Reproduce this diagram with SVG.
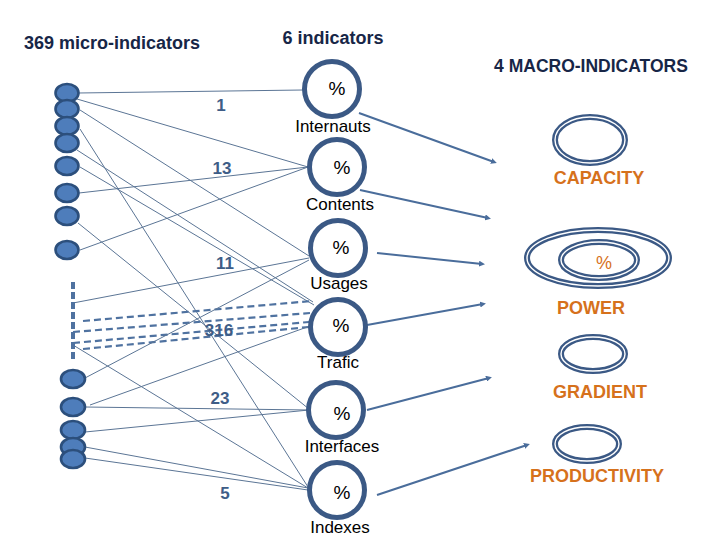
<svg xmlns="http://www.w3.org/2000/svg" width="720" height="540" viewBox="0 0 720 540">
<defs>
<style>
.hd{font-family:"Liberation Sans",Arial,sans-serif;font-weight:bold;fill:#172647;font-size:18px}
.num{font-family:"Liberation Sans",Arial,sans-serif;font-weight:bold;fill:#3e5d87;font-size:17px;text-anchor:middle}
.lbl{font-family:"Liberation Sans",Arial,sans-serif;fill:#000;font-size:17px;text-anchor:middle}
.pct{font-family:"Liberation Sans",Arial,sans-serif;fill:#000;font-size:19px;text-anchor:middle}
.mac{font-family:"Liberation Sans",Arial,sans-serif;font-weight:bold;fill:#d6711c;font-size:18px;text-anchor:middle}
.mc{fill:#4e7dbb;stroke:#2c4f7c;stroke-width:2.6}
.ring{fill:#fff;stroke:#3b5985;stroke-width:5}
.dbl{fill:none;stroke:#3b5985;stroke-width:6}
.dbw{fill:none;stroke:#fff;stroke-width:1.4}
.thin{stroke:#5b7595;stroke-width:1;fill:none}
.dash{stroke:#4f72a0;stroke-width:2.2;stroke-dasharray:7 4;fill:none}
.arr{stroke:#4a6d9b;stroke-width:2;fill:none;marker-end:url(#dot)}
</style>
<marker id="dot" viewBox="0 0 6 6" refX="3" refY="3" markerWidth="3" markerHeight="3" orient="auto">
<path d="M0,0 L6,3 L0,6 Z" fill="#4a6d9b"/>
</marker>
</defs>
<rect width="720" height="540" fill="#fff"/>

<text class="hd" x="24" y="49">369 micro-indicators</text>
<text class="hd" x="333" y="44" text-anchor="middle">6 indicators</text>
<text class="hd" x="591" y="72" text-anchor="middle" style="font-size:17.5px">4 MACRO-INDICATORS</text>

<g id="connectors">
<line class="thin" x1="78" y1="93" x2="303" y2="90"/>
<line class="thin" x1="77" y1="99" x2="308" y2="167"/>
<line class="thin" x1="80" y1="110" x2="309" y2="256"/>
<line class="thin" x1="80" y1="129" x2="308" y2="487"/>
<line class="thin" x1="77" y1="150" x2="313" y2="302"/>
<line class="thin" x1="80" y1="167" x2="314" y2="305"/>
<line class="thin" x1="79" y1="193" x2="308" y2="167"/>
<line class="thin" x1="78" y1="223" x2="309" y2="409"/>
<line class="thin" x1="80" y1="250" x2="308" y2="167"/>
<line class="thin" x1="73" y1="303" x2="309" y2="258"/>
<line class="thin" x1="73" y1="345" x2="308" y2="488"/>
<line class="dash" x1="83" y1="321" x2="312" y2="301"/>
<line class="dash" x1="73" y1="332" x2="310" y2="313"/>
<line class="dash" x1="73" y1="343" x2="309" y2="322"/>
<line class="dash" x1="83" y1="349" x2="309" y2="327"/>
<line class="thin" x1="85" y1="378" x2="309" y2="260"/>
<line class="thin" x1="90" y1="405" x2="310" y2="326"/>
<line class="thin" x1="85" y1="407" x2="309" y2="410"/>
<line class="thin" x1="85" y1="432" x2="309" y2="410"/>
<line class="thin" x1="85" y1="447" x2="308" y2="488"/>
<line class="thin" x1="85" y1="458" x2="308" y2="490"/>
<line class="arr" x1="359" y1="113" x2="494" y2="162"/>
<line class="arr" x1="360" y1="190" x2="488" y2="218"/>
<line class="arr" x1="377" y1="253" x2="482" y2="264"/>
<line class="arr" x1="367" y1="325" x2="483" y2="304"/>
<line class="arr" x1="367" y1="410" x2="489" y2="378"/>
<line class="arr" x1="377" y1="495" x2="527" y2="445"/>
</g>

<g id="micro-top">
<ellipse class="mc" cx="67" cy="93" rx="11.5" ry="9"/>
<ellipse class="mc" cx="67" cy="109" rx="11.5" ry="9"/>
<ellipse class="mc" cx="67" cy="126" rx="11.5" ry="9"/>
<ellipse class="mc" cx="67" cy="143" rx="11.5" ry="9"/>
<ellipse class="mc" cx="67" cy="166" rx="11.5" ry="9"/>
<ellipse class="mc" cx="67" cy="193" rx="11.5" ry="9"/>
<ellipse class="mc" cx="67" cy="216" rx="11.5" ry="9"/>
<ellipse class="mc" cx="67" cy="250" rx="11.5" ry="9"/>
</g>
<g id="micro-bar">
<line x1="73" y1="282" x2="73" y2="361" stroke="#4f72a0" stroke-width="4" stroke-dasharray="7 3"/>
</g>
<g id="micro-bottom">
<ellipse class="mc" cx="73" cy="379" rx="12" ry="9"/>
<ellipse class="mc" cx="73" cy="407" rx="12" ry="9"/>
<ellipse class="mc" cx="73" cy="430" rx="12" ry="9"/>
<ellipse class="mc" cx="73" cy="447" rx="12" ry="9"/>
<ellipse class="mc" cx="73" cy="459" rx="12" ry="9"/>
</g>

<text class="num" x="221" y="111">1</text>
<text class="num" x="222" y="174">13</text>
<text class="num" x="225" y="269">11</text>
<text class="num" x="219" y="336">316</text>
<text class="num" x="220" y="404">23</text>
<text class="num" x="225" y="499">5</text>

<g id="internauts"><circle class="ring" cx="332" cy="89" r="27.5"/><text class="pct" x="337" y="95">%</text><text class="lbl" x="333" y="132">Internauts</text></g>
<g id="contents"><circle class="ring" cx="337" cy="167" r="27.5"/><text class="pct" x="342" y="174">%</text><text class="lbl" x="340" y="210">Contents</text></g>
<g id="usages"><circle class="ring" cx="338" cy="248" r="27.5"/><text class="pct" x="341" y="254">%</text><text class="lbl" x="339" y="289">Usages</text></g>
<g id="trafic"><circle class="ring" cx="338" cy="327" r="27.5"/><text class="pct" x="341" y="332">%</text><text class="lbl" x="338" y="368">Trafic</text></g>
<g id="interfaces"><circle class="ring" cx="336" cy="410" r="27.5"/><text class="pct" x="342" y="420">%</text><text class="lbl" x="342" y="452">Interfaces</text></g>
<g id="indexes"><circle class="ring" cx="337" cy="490" r="27.5"/><text class="pct" x="342" y="499">%</text><text class="lbl" x="340" y="533">Indexes</text></g>

<g id="capacity"><ellipse class="dbl" cx="590" cy="140" rx="35" ry="23"/><ellipse class="dbw" cx="590" cy="140" rx="35" ry="23"/><text class="mac" x="599" y="184">CAPACITY</text></g>
<g id="power"><ellipse class="dbl" cx="598" cy="258" rx="71" ry="28"/><ellipse class="dbw" cx="598" cy="258" rx="71" ry="28"/><ellipse class="dbl" cx="599" cy="260" rx="38" ry="18"/><ellipse class="dbw" cx="599" cy="260" rx="38" ry="18"/><text class="mac" x="604" y="269" style="font-weight:normal">%</text><text class="mac" x="591" y="314">POWER</text></g>
<g id="gradient"><ellipse class="dbl" cx="593" cy="354" rx="32" ry="17"/><ellipse class="dbw" cx="593" cy="354" rx="32" ry="17"/><text class="mac" x="600" y="398">GRADIENT</text></g>
<g id="productivity"><ellipse class="dbl" cx="587" cy="444" rx="32" ry="17"/><ellipse class="dbw" cx="587" cy="444" rx="32" ry="17"/><text class="mac" x="597" y="482">PRODUCTIVITY</text></g>
</svg>
